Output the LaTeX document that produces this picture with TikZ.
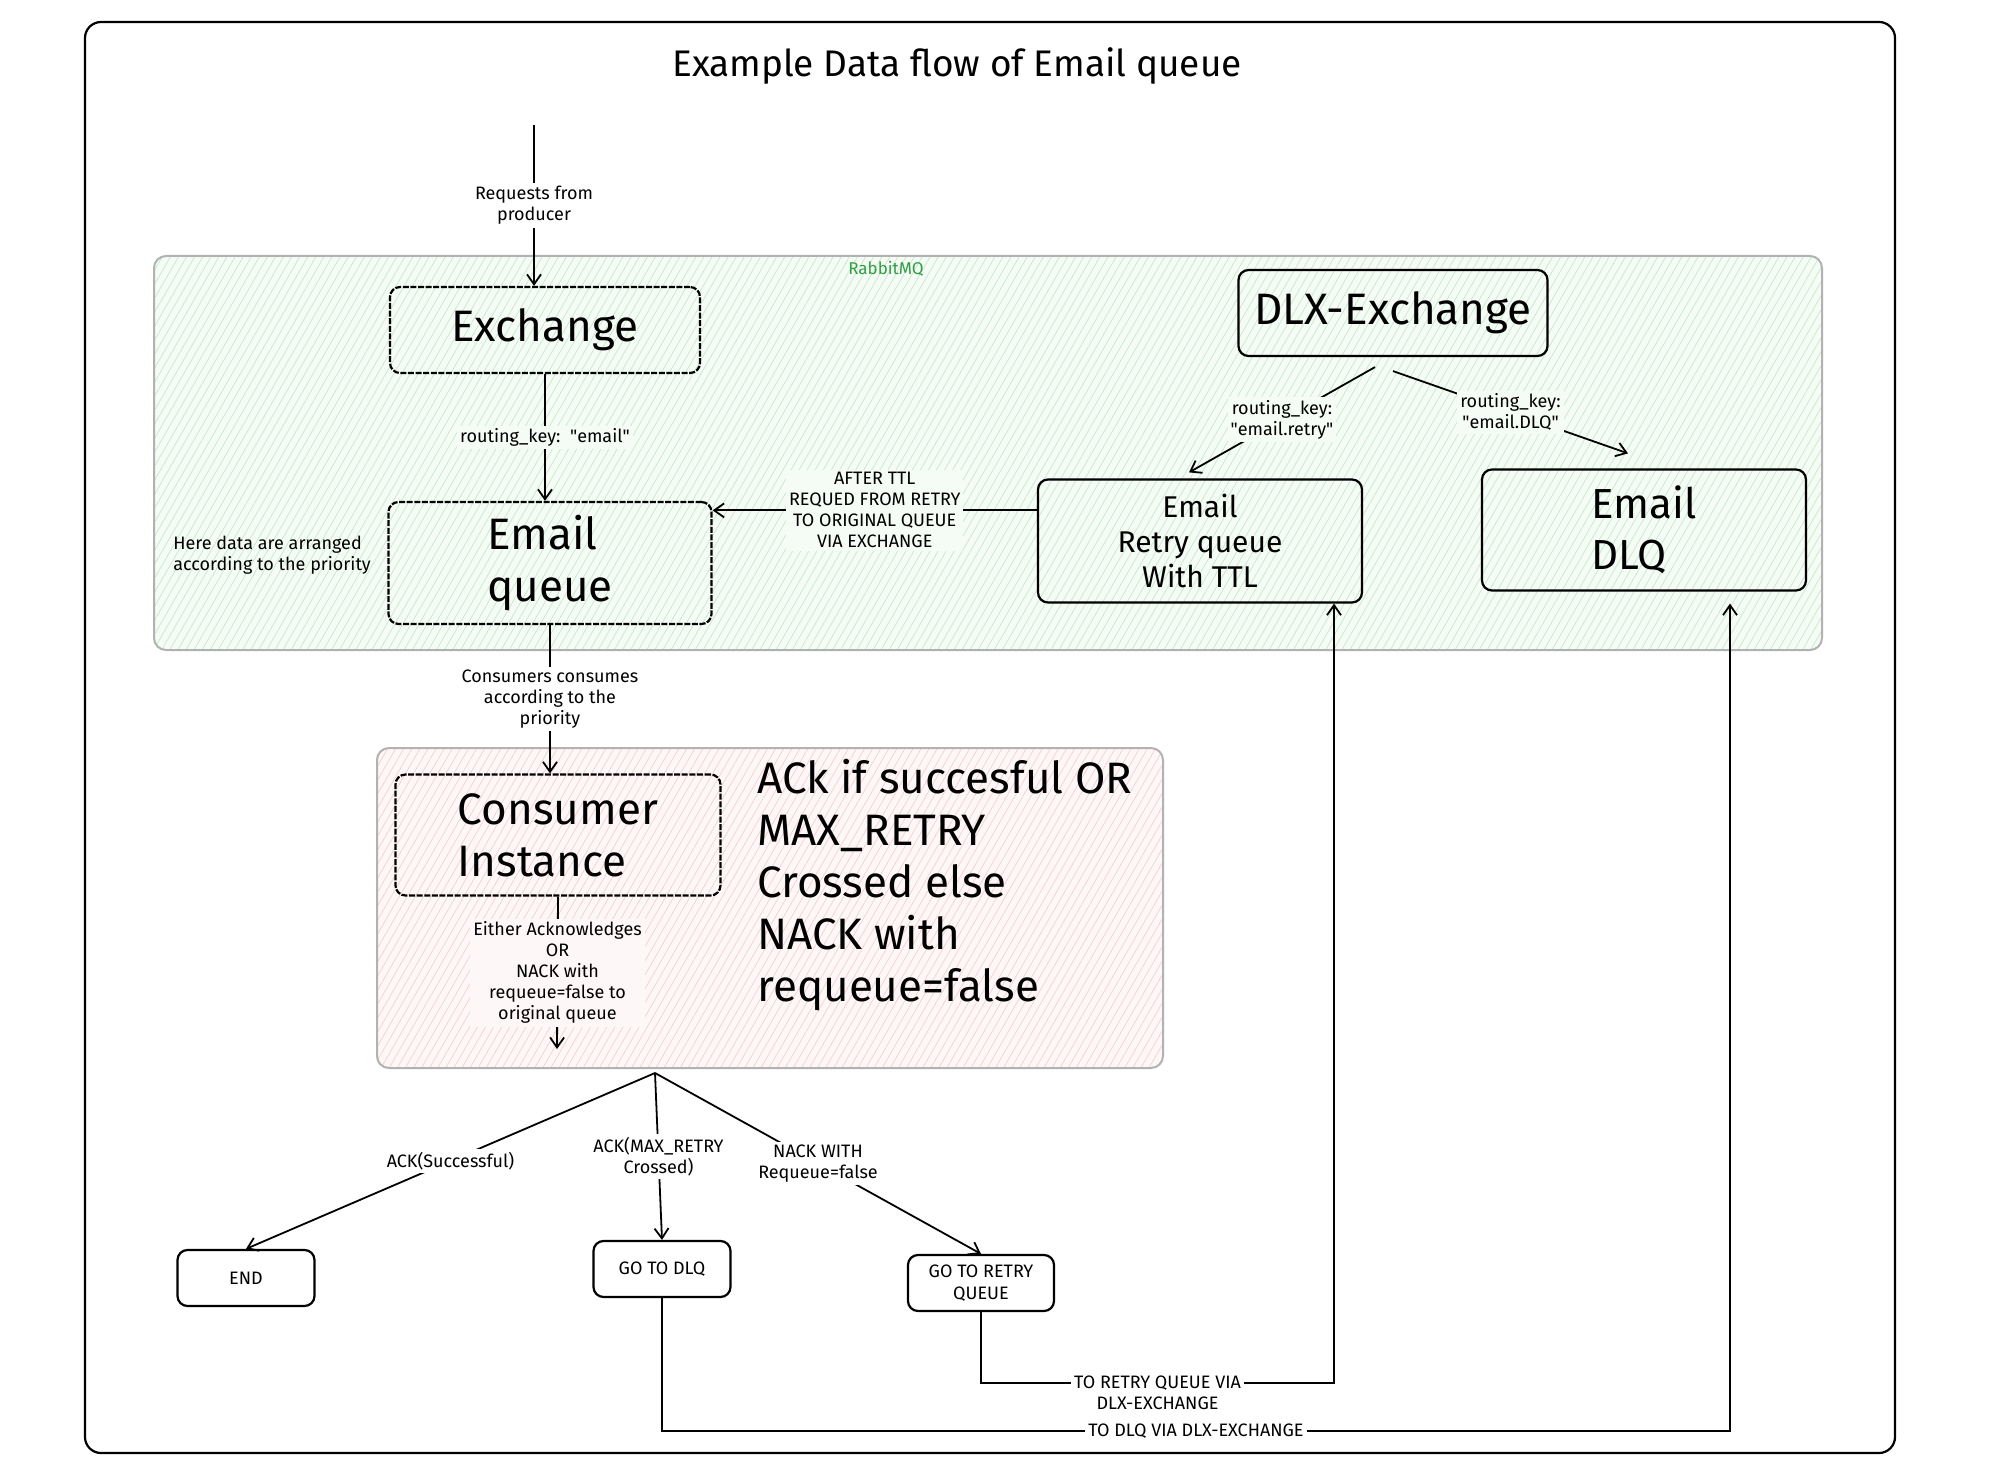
\documentclass[tikz,border=0pt]{standalone}
\usepackage{fontspec}
\setmainfont{Fira Sans}
\usepackage{tikz}
\usetikzlibrary{arrows.meta,positioning,patterns.meta}

\definecolor{rmqfill}{HTML}{F5FBF5}
\definecolor{rmqhatch}{HTML}{C6E8C9}
\definecolor{rmqtext}{HTML}{2F9E44}
\definecolor{consfill}{HTML}{FEF7F7}
\definecolor{conshatch}{HTML}{F5CFCF}

\begin{document}
\begin{tikzpicture}[
  x=0.5pt, y=-0.5pt,
  box/.style={draw, line width=1.1pt, rounded corners=5pt, align=center, inner sep=0pt},
  bigbox/.style={box, font=\fontsize{22}{26}\selectfont},
  dbox/.style={bigbox, dash pattern=on 3pt off 0.8pt},
  smallbox/.style={box, font=\fontsize{9}{11}\selectfont, minimum width=68.5pt, minimum height=28pt},
  arr/.style={-{Straight Barb[length=5pt,width=7pt]}, line width=0.9pt},
  lbl/.style={font=\fontsize{9}{10.5}\selectfont, align=center, inner sep=1.5pt},
  grp/.style={draw=black!30, line width=1pt, rounded corners=6pt}
]
  \useasboundingbox (0,0) rectangle (1998,1476);
  \draw[line width=1.1pt, rounded corners=8pt] (85,22) rectangle (1895,1453);
  \node[font=\fontsize{18.5}{22}\selectfont] (title) at (957,66) {Example Data flow of Email queue};

  % groups
  \draw[grp, preaction={fill=rmqfill}, pattern={Lines[angle=60,distance=3.5pt,line width=0.35pt]}, pattern color=rmqhatch] (154,256) rectangle (1822,650);
  \node[font=\fontsize{8.5}{10}\selectfont, text=rmqtext] (rmq) at (886,269) {RabbitMQ};
  \draw[grp, preaction={fill=consfill}, pattern={Lines[angle=60,distance=3.5pt,line width=0.35pt]}, pattern color=conshatch] (377,748) rectangle (1163,1068);

  % boxes
  \node[dbox, minimum width=155pt, minimum height=43pt] (exch) at (545,330) {Exchange};
  \node[dbox, align=left, minimum width=161.5pt, minimum height=61pt] (eq) at (550,563) {Email\\queue};
  \node[box, font=\fontsize{15}{17.5}\selectfont, minimum width=162pt, minimum height=61.5pt] (retry) at (1200,541) {Email\\Retry queue\\With TTL};
  \node[bigbox, minimum width=154.5pt, minimum height=43pt] (dlx) at (1393,313) {DLX-Exchange};
  \node[bigbox, align=left, font=\fontsize{21}{25.5}\selectfont, minimum width=162pt, minimum height=60.5pt] (dlq) at (1644,530) {Email\\DLQ};
  \node[dbox, align=left, minimum width=162.5pt, minimum height=60.5pt] (cons) at (558,835) {Consumer\\Instance};
  \node[font=\fontsize{22}{26}\selectfont, align=left, anchor=north west, inner sep=0pt] (rule) at (757,759) {ACk if succesful OR\\MAX\_RETRY\\Crossed else\\NACK with\\requeue=false};
  \node[lbl, align=left, anchor=west, inner sep=0pt] (note) at (173,555) {Here data are arranged\\according to the priority};
  \node[smallbox] (endb) at (246,1278) {END};
  \node[smallbox] (todlq) at (662,1269) {GO TO DLQ};
  \node[smallbox, minimum width=73pt] (torty) at (981,1283) {GO TO RETRY\\QUEUE};

  \coordinate (prod) at (534,125);
  \coordinate (rin) at ([yshift=-16pt]retry.north west);
  \coordinate (ackend) at (557,1049);
  \coordinate (split) at (655,1073);
  \coordinate (rbend) at (1334,1383);
  \coordinate (dbend) at (1730,1431);

  % flow
  \draw[arr] (prod) -- node[lbl, fill=white] {Requests from\\producer} (prod |- exch.north);
  \draw[arr] (exch.south) -- node[lbl, fill=rmqfill] {routing\_key:\ \ \textquotedbl email\textquotedbl} (exch.south |- eq.north);
  \draw[arr] (rin) -- node[lbl, fill=rmqfill] {AFTER TTL\\REQUED FROM RETRY\\TO ORIGINAL QUEUE\\VIA EXCHANGE} (rin -| eq.east);
  \draw[arr] ([xshift=-9pt,yshift=-5pt]dlx.south) -- node[lbl, fill=rmqfill] {routing\_key:\\\textquotedbl email.retry\textquotedbl} ([xshift=-5.5pt,yshift=3pt]retry.north);
  \draw[arr] ([yshift=-7pt]dlx.south) -- node[lbl, fill=rmqfill] {routing\_key:\\\textquotedbl email.DLQ\textquotedbl} ([xshift=-8pt,yshift=7.5pt]dlq.north);
  \draw[arr] (eq.south) -- node[lbl, fill=white] {Consumers consumes\\according to the\\priority} (eq.south |- cons.north);
  \draw[arr] (cons.south) -- node[lbl, fill=consfill] {Either Acknowledges\\OR\\NACK with\\requeue=false to\\original queue} (ackend);

  \draw[arr] (split) -- node[lbl, fill=white] {ACK(Successful)} (endb.north);
  \draw[arr] (split) -- node[lbl, fill=white] {ACK(MAX\_RETRY\\Crossed)} (todlq.north);
  \draw[arr] (split) -- node[lbl, fill=white] {NACK WITH\\Requeue=false} (torty.north);

  \draw[arr] (torty.south) |- node[lbl, fill=white, pos=0.75, yshift=-5pt] {TO RETRY QUEUE VIA\\DLX-EXCHANGE} (rbend) -- (rbend |- retry.south);
  \draw[arr, shorten >=6pt] (todlq.south) |- node[lbl, fill=white, pos=0.75] {TO DLQ VIA DLX-EXCHANGE} (dbend) -- (dbend |- dlq.south);
\end{tikzpicture}
\end{document}
